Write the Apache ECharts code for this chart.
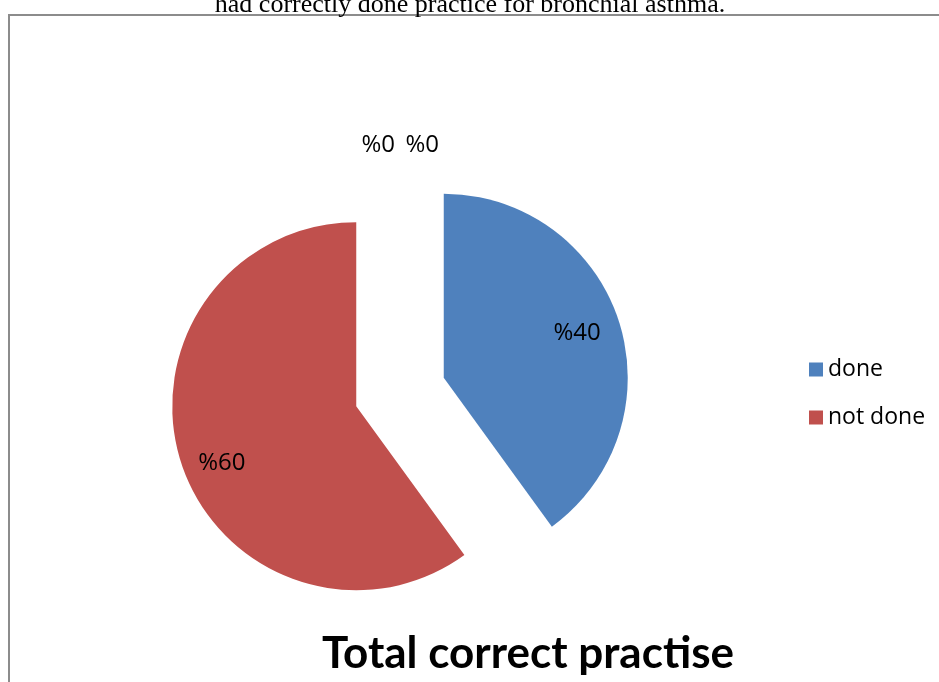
<!DOCTYPE html>
<html>
<head>
<meta charset="utf-8">
<script src="https://cdn.jsdelivr.net/npm/echarts@6/dist/echarts.min.js"></script>
<style>
  html, body { margin: 0; padding: 0; background: #fff; }
  #chart { width: 939px; height: 682px; }
</style>
</head>
<body>
<div id="chart"></div>
<script>
// 数据
const categories = ['done', 'not done', 'zero a', 'zero b']
const values = [40, 60, 0, 0]
const legendNames = ['done', 'not done']
const colors = ['#4F81BD', '#C0504D', '#9BBB59', '#8064A2']
// 标签偏移
const labelShift = [[43, -15], [-44, 28], [0, -17], [44, -17]]

const chart = echarts.init(document.getElementById('chart'))

const pieData = categories.map((name, i) => ({
  name: name,
  value: values[i],
  selected: true,
  itemStyle: { color: colors[i] },
  label: { position: values[i] === 0 ? 'outside' : 'inside' },
  labelLine: { show: false }
}))

chart.setOption({
  animation: false,
  title: [
    {
      text: 'Total correct practise',
      left: 523,
      top: 627,
      textAlign: 'center',
      textStyle: { fontFamily: 'Lato', fontWeight: 'bold', fontSize: 44, color: '#000' }
    },
    {
      text: 'had correctly done practice for bronchial asthma.',
      left: 465,
      top: -13,
      textAlign: 'center',
      textStyle: { fontFamily: 'Liberation Serif', fontWeight: 'normal', fontSize: 26, color: '#000' }
    }
  ],
  graphic: [{
    type: 'rect',
    shape: { x: 9, y: 15, width: 940, height: 680 },
    style: { fill: 'none', stroke: '#8c8c8c', lineWidth: 2 },
    silent: true
  }],
  legend: {
    data: legendNames,
    orient: 'vertical',
    left: 804,
    top: 353,
    itemWidth: 14,
    itemHeight: 14,
    itemGap: 25,
    icon: 'rect',
    textStyle: { fontFamily: 'Open Sans', fontSize: 23, color: '#000' }
  },
  series: [{
    type: 'pie',
    center: [400, 392],
    radius: 184,
    startAngle: 90,
    clockwise: true,
    selectedMode: 'multiple',
    selectedOffset: 46,
    avoidLabelOverlap: false,
    label: {
      show: true,
      formatter: p => '%' + p.value,
      fontFamily: 'Open Sans',
      fontSize: 24,
      color: '#000'
    },
    labelLine: { show: false, length: 0, length2: 0 },
    labelLayout: p => ({ dx: labelShift[p.dataIndex][0], dy: labelShift[p.dataIndex][1] }),
    emphasis: { disabled: true },
    data: pieData
  }]
})
</script>
</body>
</html>
